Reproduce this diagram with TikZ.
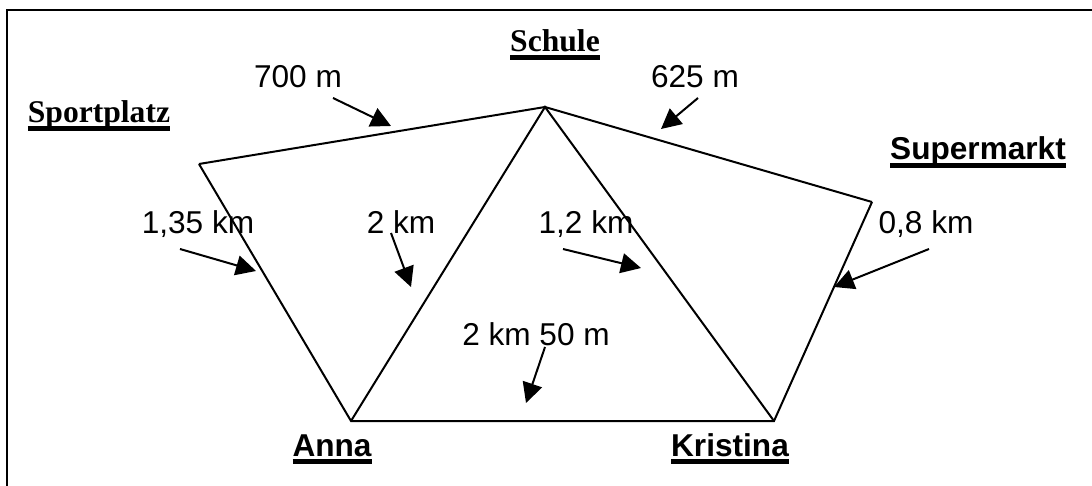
\documentclass[tikz,border=0pt]{standalone}
\usepackage{fontspec}
\usetikzlibrary{arrows.meta}
\newfontfamily\arialfont{Liberation Sans}
\newfontfamily\timesfont{Liberation Serif}
\newlength\ulwidth
\newcommand{\placeline}[1]{\settowidth{\ulwidth}{#1}#1\llap{\rule[-3.8pt]{\ulwidth}{2.3pt}}}
\tikzset{
  dist/.style={font=\arialfont\fontsize{15.8}{18}\selectfont, inner sep=0pt, anchor=base},
  place/.style={font=\arialfont\bfseries\fontsize{15.8}{18}\selectfont, inner sep=0pt, anchor=base},
  oldplace/.style={place, font=\timesfont\bfseries\fontsize{15.8}{18}\selectfont},
  road/.style={line width=1pt},
  pointer/.style={line width=1pt, -{Triangle[length=10pt,width=10pt]}},
}
\begin{document}
\begin{tikzpicture}[x=0.5pt, y=-0.5pt]
      \useasboundingbox (0,0) rectangle (1092,486);
      \draw[line width=1pt] (1092,10) -- (7,10) -- (7,486);

      \coordinate (schule) at (545,107);
      \coordinate (sport) at (199,164);
      \coordinate (markt) at (872,202);
      \coordinate (anna) at (351,421);
      \coordinate (kristina) at (774,421);

      \node[oldplace] at (555,52) (lschule) {\placeline{Schule}};
      \node[oldplace] at (99,123) (lsport) {\placeline{Sportplatz}};
      \node[place] at (978,160) (lmarkt) {\placeline{Supermarkt}};
      \node[place] at (332,456) (lanna) {\placeline{Anna}};
      \node[place] at (730,456) (lkristina) {\placeline{Kristina}};

      % draw edges
      \draw[road] (sport) -- (schule) -- (markt);
      \draw[road] (sport) -- (anna) -- (kristina) -- (markt);
      \draw[road] (anna) -- (schule) -- (kristina);

      % distances
      \node[dist] at (298,88) (d700) {700 m};
      \node[dist] at (695,88) (d625) {625 m};
      \node[dist] at (198,234) (d135) {1,35 km};
      \node[dist] at (401,234) (d2) {2 km};
      \node[dist] at (586,234) (d12) {1,2 km};
      \node[dist] at (926,234) (d08) {0,8 km};
      \node[dist] at (536,345) (d250) {2 km 50 m};

      \coordinate (s700) at (333,98);   \coordinate (t700) at (391,126);
      \coordinate (s625) at (698,98);   \coordinate (t625) at (661,129);
      \coordinate (s135) at (180,249);  \coordinate (t135) at (256,271);
      \coordinate (s2) at (391,233);    \coordinate (t2) at (411,287);
      \coordinate (s12) at (563,249);   \coordinate (t12) at (641,268);
      \coordinate (s08) at (929,249);   \coordinate (t08) at (834,287);
      \coordinate (s250) at (545,347);  \coordinate (t250) at (526,403);

      % draw pointers
      \foreach \d in {700,625,135,2,12,08,250}
        \draw[pointer] (s\d) -- (t\d);
  \end{tikzpicture}
\end{document}
